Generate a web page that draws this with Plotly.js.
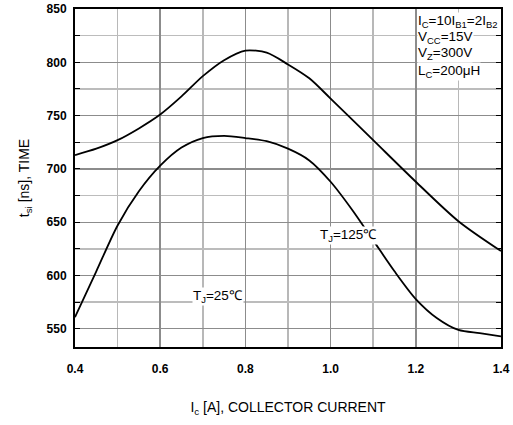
<!DOCTYPE html>
<html>
<head>
<meta charset="utf-8">
<script src="https://cdn.plot.ly/plotly-3.0.1.min.js"></script>
<style>html,body{margin:0;padding:0;background:#fff;}#chart{width:513px;height:425px;}</style>
</head>
<body>
<div id="chart"></div>
<script>
// Upper curve
var xUpper = [0.4,0.45,0.5,0.55,0.6,0.65,0.7,0.75,0.8,0.85,0.9,0.95,1.0,1.1,1.2,1.3,1.4];
var yUpper = [713,719,727,738,751,768,787,802,811,809,798,785,766,727,688,651,623];
// Lower curve
var xLower = [0.4,0.45,0.5,0.55,0.6,0.65,0.7,0.75,0.8,0.85,0.9,0.95,1.0,1.05,1.1,1.15,1.2,1.25,1.3,1.35,1.4];
var yLower = [561,604,647,679,703,720,729,731,729,726,719,708,688,662,633,604,578,560,549,546,543];
var xRange = [0.4, 1.4], yRange = [533, 850];
var xTickStart = 0.4, xTickStep = 0.2, xMinorStep = 0.1;
var yTickStart = 550, yTickStep = 50, yMinorStep = 25;

var font = "Liberation Sans, Arial, sans-serif";
var traces = [
  {x: xUpper, y: yUpper, mode: 'lines', line: {color: '#000', width: 1.8, shape: 'spline', smoothing: 0.8}, hoverinfo: 'skip'},
  {x: xLower, y: yLower, mode: 'lines', line: {color: '#000', width: 1.8, shape: 'spline', smoothing: 0.8}, hoverinfo: 'skip'}
];

function ann(x, y, text) {
  return {x: x, y: y, xref: 'x', yref: 'y', text: text, showarrow: false,
    xanchor: 'left', yanchor: 'middle', font: {family: font, size: 13.5, color: '#000'},
    bgcolor: '#fff', borderpad: 0};
}

var layout = {
  width: 513, height: 425,
  margin: {l: 75, r: 12, t: 9, b: 78},
  paper_bgcolor: '#fff', plot_bgcolor: '#fff',
  showlegend: false,
  font: {family: font, color: '#000'},
  xaxis: {
    range: xRange, tick0: xTickStart, dtick: xTickStep, tickformat: '.1f',
    showgrid: true, gridcolor: '#8c8c8c', gridwidth: 1.5,
    minor: {dtick: xMinorStep, showgrid: true, gridcolor: '#b8b8b8', gridwidth: 1.5},
    showline: true, linecolor: '#000', linewidth: 2, mirror: true,
    ticks: '', zeroline: false,
    tickfont: {family: font, size: 12, weight: 'bold', color: '#000'},
    ticklabelstandoff: 10,
    title: {text: 'I<sub>c</sub> [A], COLLECTOR CURRENT', font: {family: font, size: 14, color: '#000'}, standoff: 27}
  },
  yaxis: {
    range: yRange, tick0: yTickStart, dtick: yTickStep,
    showgrid: true, gridcolor: '#8c8c8c', gridwidth: 1.2,
    minor: {dtick: yMinorStep, showgrid: true, gridcolor: '#bcbcbc', gridwidth: 1.5, ticks: 'inside', ticklen: 5, tickcolor: '#000'},
    showline: true, linecolor: '#000', linewidth: 2, mirror: 'allticks',
    ticks: 'inside', ticklen: 5, tickcolor: '#000', tickwidth: 1, zeroline: false,
    tickfont: {family: font, size: 12, weight: 'bold', color: '#000'},
    ticklabelstandoff: 4,
    title: {text: 't<sub>si</sub> [ns], TIME', font: {family: font, size: 14, color: '#000'}, standoff: 14}
  },
  annotations: [
    ann(1.203, 838, 'I<sub>C</sub>=10I<sub>B1</sub>=2I<sub>B2</sub>'),
    ann(1.203, 823, 'V<sub>CC</sub>=15V'),
    ann(1.203, 808, 'V<sub>Z</sub>=300V'),
    ann(1.203, 791, 'L<sub>C</sub>=200μH'),
    ann(0.972, 638, 'T<sub>J</sub>=125℃'),
    ann(0.675, 580, 'T<sub>J</sub>=25℃')
  ]
};
Plotly.newPlot('chart', traces, layout, {displayModeBar: false, staticPlot: true});
</script>
</body>
</html>
